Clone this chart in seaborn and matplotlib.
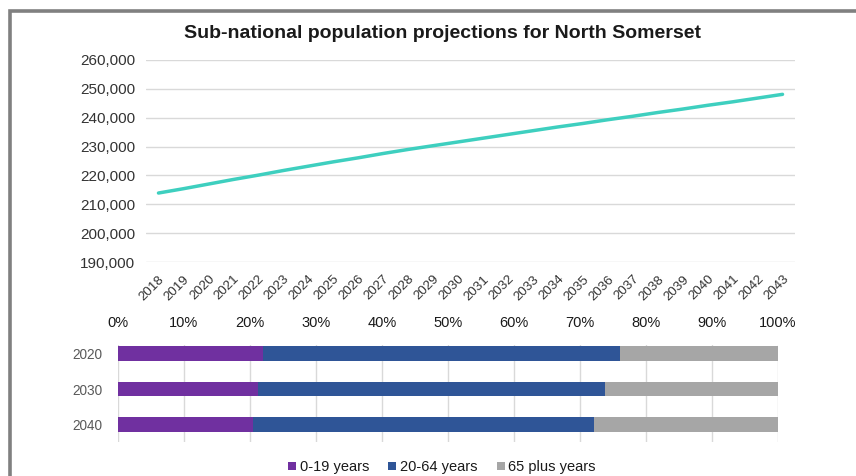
import matplotlib
matplotlib.use("Agg")
import matplotlib.pyplot as plt
from matplotlib.patches import Rectangle
from matplotlib.lines import Line2D
from matplotlib.ticker import FuncFormatter
import seaborn as sns
import pandas as pd

# Projected total population, North Somerset
years = list(range(2018, 2044))
population = [213900, 215400, 217000, 218600, 220100, 221700, 223200, 224700,
              226100, 227600, 229000, 230300, 231600, 232900, 234200, 235500,
              236800, 238000, 239300, 240500, 241800, 243000, 244300, 245500,
              246800, 248100]

# Age structure (% of population)
snapshot_years = ["2020", "2030", "2040"]
age_groups = ["0-19 years", "20-64 years", "65 plus years"]
share_0_19 = [22.0, 21.2, 20.5]
share_20_64 = [54.1, 52.6, 51.6]
share_65_plus = [23.9, 26.2, 27.9]

line_color = "#3ECFBF"
group_colors = ["#7030A0", "#2F5597", "#A6A6A6"]
grid_color = "#D9D9D9"

sns.set_theme(style="white")
plt.rcParams["font.family"] = ["Liberation Sans", "DejaVu Sans"]

fig = plt.figure(figsize=(8.56, 4.76), dpi=100)
W, H = 856, 476

def px_axes(x0, y0, x1, y1):
    return fig.add_axes([x0 / W, 1 - y1 / H, (x1 - x0) / W, (y1 - y0) / H])

# ---- Upper panel: population line ----
ax1 = px_axes(146, 60, 795, 262)
df_pop = pd.DataFrame({"year": years, "population": population})
sns.lineplot(data=df_pop, x="year", y="population", ax=ax1,
             color=line_color, linewidth=2.5)
ax1.set_xlim(years[0] - 0.5, years[-1] + 0.5)
ax1.set_ylim(190000, 260000)
ax1.set_yticks(range(190000, 260001, 10000))
ax1.yaxis.set_major_formatter(FuncFormatter(lambda v, p: f"{int(v):,}"))
ax1.set_xticks(years)
ax1.set_xticklabels([str(y) for y in years], rotation=45, ha="right",
                    rotation_mode="anchor", fontsize=9.6, color="#333333")
ax1.tick_params(axis="x", pad=8, length=0)
ax1.tick_params(axis="y", pad=8, length=0, labelsize=11, labelcolor="#333333")
ax1.grid(axis="y", color=grid_color, linewidth=1)
ax1.grid(axis="x", visible=False)
ax1.set_xlabel("")
ax1.set_ylabel("")
for s in ax1.spines.values():
    s.set_visible(False)

fig.text(442 / W, 1 - 33 / H, "Sub-national population projections for North Somerset",
         ha="center", va="center", fontsize=14, fontweight="bold", color="#1A1A1A")

# ---- Lower panel: stacked age-structure bars ----
ax2 = px_axes(118, 345, 778, 442)
cum1 = share_0_19
cum2 = [a + b for a, b in zip(share_0_19, share_20_64)]
cum3 = [a + b + c for a, b, c in zip(share_0_19, share_20_64, share_65_plus)]
layers = [(cum3, group_colors[2]), (cum2, group_colors[1]), (cum1, group_colors[0])]
for vals, col in layers:
    sns.barplot(x=vals, y=snapshot_years, orient="h", ax=ax2, color=col,
                saturation=1, width=0.41, linewidth=0)
ax2.set_xlim(0, 100)
ax2.set_ylim(2.485, -0.233)
ax2.set_xticks(range(0, 101, 10))
ax2.xaxis.set_major_formatter(FuncFormatter(lambda v, p: f"{int(v)}%"))
ax2.xaxis.tick_top()
ax2.tick_params(axis="x", top=False, bottom=False, length=0, pad=11, labelsize=10.5,
                labelcolor="#1A1A1A")
ax2.tick_params(axis="y", left=False, length=0, pad=11, labelsize=9.8,
                labelcolor="#595959")
ax2.grid(axis="x", color=grid_color, linewidth=1)
ax2.grid(axis="y", visible=False)
ax2.set_axisbelow(True)
ax2.set_xlabel("")
ax2.set_ylabel("")
for s in ax2.spines.values():
    s.set_visible(False)

handles = [Line2D([], [], marker="s", linestyle="none", markersize=5.5,
                  markerfacecolor=c, markeredgewidth=0) for c in group_colors]
fig.legend(handles, age_groups, loc="center", bbox_to_anchor=(441 / W, 1 - 467 / H),
           ncol=3, frameon=False, fontsize=10.5, handletextpad=0.1,
           columnspacing=1.2, handlelength=0.8, labelcolor="#1A1A1A")

# Outer frame
fig.add_artist(Rectangle((10 / W, -0.2), 1.2, 1.2 - 11 / H, transform=fig.transFigure,
                         fill=False, edgecolor="#808080", linewidth=2.6))

fig.savefig("out.png", dpi=100)
